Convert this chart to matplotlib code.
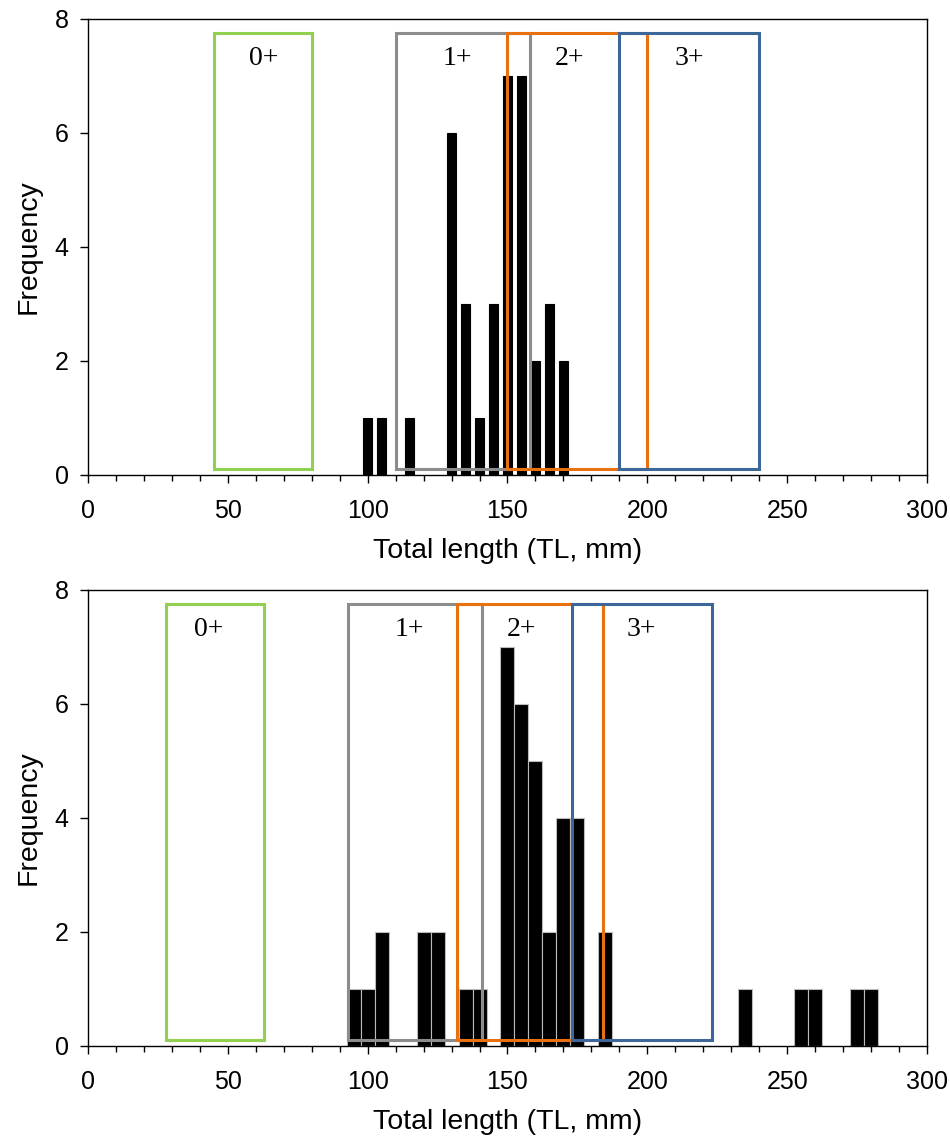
import matplotlib
matplotlib.use("Agg")
import matplotlib.pyplot as plt
from matplotlib.patches import Rectangle
from matplotlib.ticker import MultipleLocator

# top panel: length classes (mm) and counts
top_len = [100, 105, 115, 130, 135, 140, 145, 150, 155, 160, 165, 170]
top_freq = [1, 1, 1, 6, 3, 1, 3, 7, 7, 2, 3, 2]

# bottom panel
bot_len = [95, 100, 105, 120, 125, 135, 140, 150, 155, 160, 165, 170, 175, 185,
           235, 255, 260, 275, 280]
bot_freq = [1, 1, 2, 2, 2, 1, 1, 7, 6, 5, 2, 4, 4, 2, 1, 1, 1, 1, 1]

# age class ranges (mm)
ages = ["0+", "1+", "2+", "3+"]
top_lo = [45, 110, 150, 190]
top_hi = [80, 158, 200, 240]
bot_lo = [28, 93, 132, 173]
bot_hi = [63, 141, 184, 223]
top_lab_x = [63, 132, 172, 215]
bot_lab_x = [43, 115, 155, 198]

box_colors = ["#92D050", "#8C8C8C", "#E8700F", "#3D6699"]

plt.rcParams["font.family"] = ["Liberation Sans", "DejaVu Sans"]

fig = plt.figure(figsize=(9.5, 11.42), dpi=100)
ax1 = fig.add_axes([0.0926, 0.5841, 0.8832, 0.3993])
ax2 = fig.add_axes([0.0926, 0.0841, 0.8832, 0.3993])


def draw_panel(ax, lens, freqs, lo, hi, lab_x, width, edge):
    ax.bar(lens, freqs, width=width, color="black", edgecolor=edge,
           linewidth=0.8, zorder=2)
    for i in range(len(ages)):
        ax.add_patch(Rectangle((lo[i], 0.1), hi[i] - lo[i], 7.65, fill=False,
                               edgecolor=box_colors[i], linewidth=2.2, zorder=3))
        ax.text(lab_x[i], 7.3, ages[i], ha="center", va="center",
                fontfamily="Liberation Serif", fontsize=20, zorder=4)
    ax.set_xlim(0, 300)
    ax.set_ylim(0, 8)
    ax.set_yticks([0, 2, 4, 6, 8])
    ax.xaxis.set_major_locator(MultipleLocator(50))
    ax.xaxis.set_minor_locator(MultipleLocator(10))
    ax.tick_params(axis="both", which="major", labelsize=18, length=6,
                   width=1, direction="out")
    ax.tick_params(axis="x", which="major", pad=11)
    ax.tick_params(axis="y", which="major", pad=8)
    ax.tick_params(axis="x", which="minor", length=4, width=1)
    ax.set_xlabel("Total length (TL, mm)", fontsize=20.5, labelpad=11)
    ax.set_ylabel("Frequency", fontsize=20.5, labelpad=9)
    for s in ax.spines.values():
        s.set_linewidth(1)


draw_panel(ax1, top_len, top_freq, top_lo, top_hi, top_lab_x, 3.3, "black")
draw_panel(ax2, bot_len, bot_freq, bot_lo, bot_hi, bot_lab_x, 5, "#BBBBBB")

fig.savefig("out.png", dpi=100)
